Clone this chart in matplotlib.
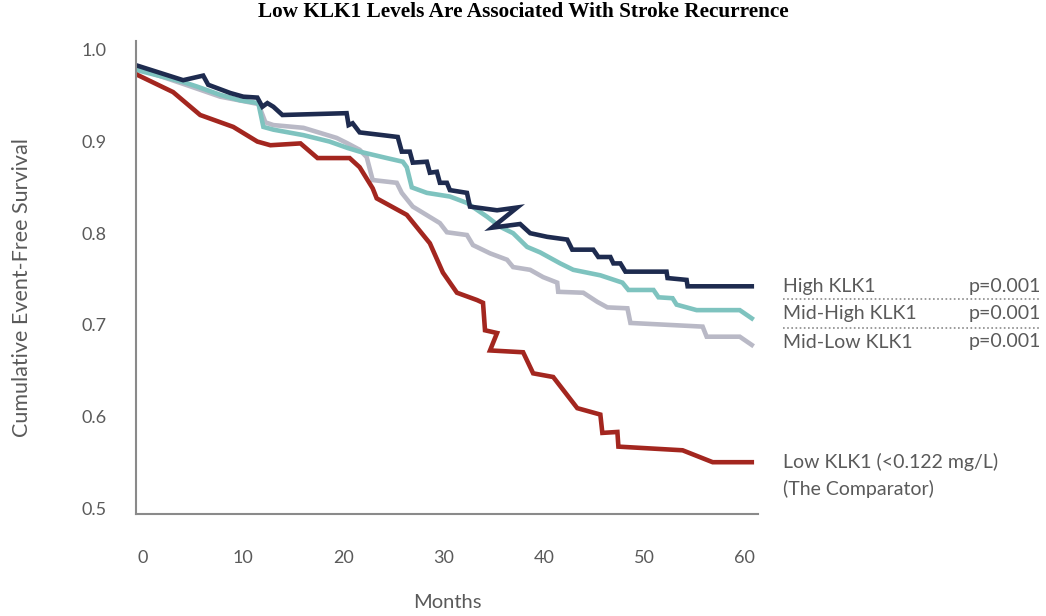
import matplotlib
matplotlib.use("Agg")
import matplotlib.pyplot as plt
from matplotlib.lines import Line2D

# ---- data (months, cumulative event-free survival) ----
high_months = [-0.6, 4.0, 6.0, 6.5, 8.7, 10.0, 11.4, 11.9, 12.4, 13.0, 13.9, 20.3, 20.5, 20.9,
               21.6, 23.9, 25.4, 25.8, 26.6, 26.9, 28.3, 28.6, 29.3, 29.6, 30.3, 30.6, 32.3,
               32.6, 35.3, 37.3, 34.8, 37.6, 38.6, 40.3, 42.3, 42.8, 44.9, 45.4, 46.6, 46.9,
               47.6, 48.1, 52.2, 52.3, 54.2, 54.3, 60.7]
high_surv = [0.983, 0.967, 0.972, 0.962, 0.953, 0.949, 0.948, 0.938, 0.942, 0.938, 0.929, 0.931,
             0.918, 0.920, 0.910, 0.907, 0.905, 0.889, 0.889, 0.877, 0.878, 0.866, 0.867, 0.855,
             0.855, 0.847, 0.844, 0.829, 0.825, 0.828, 0.806, 0.810, 0.800, 0.796, 0.793, 0.782,
             0.782, 0.774, 0.774, 0.767, 0.767, 0.758, 0.758, 0.751, 0.749, 0.742, 0.742]

midhigh_months = [-0.6, 4.0, 5.4, 7.7, 9.7, 11.5, 12.0, 13.0, 16.0, 18.6, 20.4, 21.6, 24.3, 25.9,
                  26.3, 26.8, 28.3, 30.6, 32.3, 34.3, 35.6, 36.9, 38.3, 39.6, 41.6, 42.9, 45.6,
                  47.8, 48.4, 50.9, 51.4, 52.8, 53.2, 55.2, 59.5, 60.7]
midhigh_surv = [0.978, 0.965, 0.960, 0.951, 0.945, 0.942, 0.916, 0.913, 0.907, 0.900, 0.893, 0.889,
                0.882, 0.878, 0.872, 0.850, 0.844, 0.840, 0.833, 0.818, 0.807, 0.800, 0.785, 0.779,
                0.767, 0.760, 0.754, 0.746, 0.738, 0.738, 0.730, 0.729, 0.722, 0.716, 0.716, 0.707]

midlow_months = [-0.6, 4.0, 7.7, 11.5, 12.2, 13.0, 16.0, 19.3, 20.4, 21.6, 22.3, 22.9, 25.3, 25.8,
                 26.9, 29.6, 30.3, 32.3, 32.9, 34.6, 36.3, 36.9, 38.6, 39.9, 41.3, 41.4, 43.9,
                 45.3, 46.3, 48.3, 48.6, 55.8, 56.2, 59.5, 60.7]
midlow_surv = [0.980, 0.963, 0.949, 0.941, 0.921, 0.918, 0.915, 0.904, 0.898, 0.891, 0.883, 0.858,
               0.855, 0.844, 0.829, 0.811, 0.801, 0.798, 0.787, 0.778, 0.771, 0.763, 0.760, 0.752,
               0.746, 0.736, 0.735, 0.725, 0.719, 0.718, 0.702, 0.698, 0.687, 0.687, 0.678]

low_months = [-0.6, 3.0, 5.7, 9.0, 11.4, 12.7, 15.7, 17.4, 20.6, 21.6, 22.9, 23.3, 26.3, 28.6,
              29.9, 31.3, 33.3, 33.9, 34.1, 35.3, 34.6, 37.9, 38.9, 40.9, 43.3, 45.6, 45.8,
              47.3, 47.4, 53.8, 56.8, 60.7]
low_surv = [0.973, 0.954, 0.929, 0.916, 0.900, 0.896, 0.898, 0.882, 0.882, 0.872, 0.849, 0.838,
            0.820, 0.789, 0.757, 0.735, 0.727, 0.724, 0.694, 0.691, 0.672, 0.670, 0.647, 0.643,
            0.609, 0.602, 0.582, 0.583, 0.567, 0.563, 0.550, 0.550]

x_ticks = [0, 10, 20, 30, 40, 50, 60]
y_ticks = [0.5, 0.6, 0.7, 0.8, 0.9, 1.0]

title = "Low KLK1 Levels Are Associated With Stroke Recurrence"
group_labels = ["High KLK1", "Mid-High KLK1", "Mid-Low KLK1"]
p_labels = ["p=0.001", "p=0.001", "p=0.001"]

# ---- styling ----
c_high = "#1e2b4f"
c_midhigh = "#7ec3bf"
c_midlow = "#b9b9c6"
c_low = "#a3261f"
txt = "#5a5a5a"
W, H = 1046, 616

fig = plt.figure(figsize=(W / 100, H / 100), dpi=100)
ax_l, ax_r, ax_t, ax_b = 136, 757.8, 40.8, 513.5
ax = fig.add_axes([ax_l / W, (H - ax_b) / H, (ax_r - ax_l) / W, (ax_b - ax_t) / H])

lw = 3.3
ax.plot(midlow_months, midlow_surv, color=c_midlow, lw=lw, solid_joinstyle="miter")
ax.plot(midhigh_months, midhigh_surv, color=c_midhigh, lw=lw, solid_joinstyle="miter")
ax.plot(low_months, low_surv, color=c_low, lw=lw, solid_joinstyle="miter")
ax.plot(high_months, high_surv, color=c_high, lw=lw, solid_joinstyle="miter")

ax.set_xlim(-0.7, 61.3)
ax.set_ylim(0.494, 1.01)
ax.set_xticks(x_ticks)
ax.set_yticks(y_ticks)
ax.set_xticklabels([str(v) for v in x_ticks])
ax.set_yticklabels([f"{v:.1f}" for v in y_ticks])
ax.tick_params(axis="both", length=0, labelsize=13, labelcolor=txt)
ax.tick_params(axis="x", pad=26)
ax.tick_params(axis="y", pad=21)
for lab in ax.get_xticklabels() + ax.get_yticklabels():
    lab.set_family("Lato")
for s in ["top", "right"]:
    ax.spines[s].set_visible(False)
for s in ["left", "bottom"]:
    ax.spines[s].set_color("#8a8a8a")
    ax.spines[s].set_linewidth(1.5)

ax.set_xlabel("Months", fontsize=14.5, color=txt, family="Lato", va="center")
ax.xaxis.set_label_coords((447 - ax_l) / (ax_r - ax_l), (ax_b - 602) / (ax_b - ax_t))
ax.set_ylabel("Cumulative Event-Free Survival", fontsize=15.5, color=txt, family="Lato", va="center")
ax.yaxis.set_label_coords((22 - ax_l) / (ax_r - ax_l), (ax_b - 288) / (ax_b - ax_t))

fig.text(523 / W, 1 - 12 / H, title, ha="center", va="center", fontsize=15.3,
         fontweight="bold", family="Liberation Serif", color="black")

# right-hand labels
fs = 14
ys = [287, 313, 342]
for lab, p, y in zip(group_labels, p_labels, ys):
    fig.text(783 / W, 1 - y / H, lab, ha="left", va="center", fontsize=fs, family="Lato", color=txt)
    fig.text(1041 / W, 1 - y / H, p, ha="right", va="center", fontsize=fs, family="Lato", color=txt)
for y in [299, 328]:
    fig.add_artist(Line2D([783 / W, 1041 / W], [1 - y / H, 1 - y / H], transform=fig.transFigure,
                          color="#8a8a8a", lw=1.2, ls=(0, (1, 1.5))))
fig.text(783 / W, 1 - 462 / H, "Low KLK1 (<0.122 mg/L)", ha="left", va="center", fontsize=fs,
         family="Lato", color=txt)
fig.text(783 / W, 1 - 489 / H, "(The Comparator)", ha="left", va="center", fontsize=fs,
         family="Lato", color=txt)

fig.savefig("out.png", dpi=100, facecolor="white")
